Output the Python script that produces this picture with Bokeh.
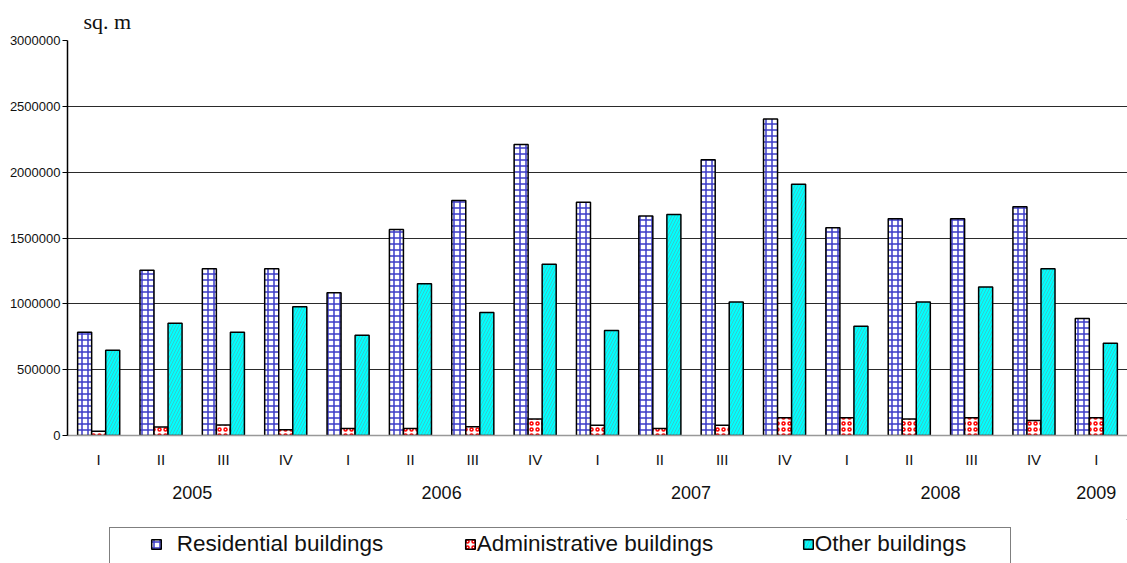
from bokeh.plotting import figure
from bokeh.layouts import column
from bokeh.models import (ColumnDataSource, FactorRange, FixedTicker,
                          BasicTickFormatter, Legend, LegendItem)
from bokeh.transform import dodge
from bokeh.embed import file_html
from bokeh.resources import INLINE

years = ["2005"] * 4 + ["2006"] * 4 + ["2007"] * 4 + ["2008"] * 4 + ["2009"]
quarters = ["I", "II", "III", "IV"] * 4 + ["I"]
residential = [785000, 1255000, 1266000, 1266000, 1084000, 1565000, 1785000, 2210000,
               1772000, 1668000, 2094000, 2403000, 1577000, 1646000, 1646000, 1737000,
               889000]
administrative = [32000, 64000, 80000, 44000, 54000, 54000, 67000, 125000,
                  77000, 54000, 77000, 135000, 135000, 125000, 135000, 113000,
                  135000]
other = [648000, 853000, 785000, 977000, 762000, 1152000, 934000, 1301000,
         797000, 1678000, 1013000, 1909000, 830000, 1013000, 1127000, 1266000,
         701000]
y_ticks = [0, 500000, 1000000, 1500000, 2000000, 2500000, 3000000]
series_names = ["Residential buildings", "Administrative buildings", "Other buildings"]

factors = list(zip(years, quarters))
src = ColumnDataSource(dict(x=factors, res=residential, adm=administrative, oth=other))

FONT = "Liberation Sans"
W = 1127

STYLES = [
    dict(fill_color="white", line_color="black", line_width=1.5,
         hatch_pattern="cross", hatch_color="#3c3cc8", hatch_scale=6, hatch_weight=1.5),
    dict(fill_color="white", line_color="black", line_width=1.5,
         hatch_pattern="ring", hatch_color="#ff0000", hatch_scale=6, hatch_weight=1.5),
    dict(fill_color="#00ffff", line_color="black", line_width=1.5,
         hatch_pattern="right_diagonal_line", hatch_color="#33cccc",
         hatch_scale=6, hatch_weight=1),
]

p = figure(width=W, height=519, x_range=FactorRange(*factors, group_padding=0,
           factor_padding=0, range_padding=0), y_range=(0, 3000000),
           output_backend="svg", toolbar_location=None,
           min_border_left=67, min_border_right=0, min_border_top=40,
           min_border_bottom=84)
p.outline_line_color = None
p.background_fill_color = "white"

bw = 0.225
r1 = p.vbar(x=dodge("x", -bw, range=p.x_range), top="res", width=bw, source=src, **STYLES[0])
r2 = p.vbar(x=dodge("x", 0, range=p.x_range), top="adm", width=bw, source=src, **STYLES[1])
r3 = p.vbar(x=dodge("x", bw, range=p.x_range), top="oth", width=bw, source=src, **STYLES[2])

# axes
p.yaxis.ticker = FixedTicker(ticks=y_ticks)
p.yaxis.formatter = BasicTickFormatter(use_scientific=False)
p.yaxis.axis_line_color = "black"
p.yaxis.axis_line_width = 1.5
p.yaxis.major_tick_out = 5
p.yaxis.major_tick_in = 0
p.yaxis.minor_tick_line_color = None
p.yaxis.major_tick_line_color = "black"
p.yaxis.major_label_text_font = FONT
p.yaxis.major_label_text_font_size = "13px"
p.yaxis.major_label_text_color = "#111111"
p.yaxis.major_label_standoff = 2

p.xaxis.axis_line_color = "#999999"
p.xaxis.axis_line_width = 1.5
p.xaxis.major_tick_line_color = None
p.xaxis.major_tick_out = 0
p.xaxis.major_tick_in = 0
p.xaxis.minor_tick_line_color = None
p.xaxis.major_label_text_font = FONT
p.xaxis.major_label_text_font_size = "15px"
p.xaxis.major_label_text_color = "#111111"
p.xaxis.major_label_standoff = 15
p.xaxis.group_text_font = FONT
p.xaxis.group_text_font_size = "18px"
p.xaxis.group_text_font_style = "normal"
p.xaxis.group_text_color = "#111111"
p.xaxis.separator_line_color = None

p.xgrid.grid_line_color = None
p.ygrid.grid_line_color = "#2a2a2a"
p.ygrid.grid_line_width = 1

# unit title
p.title.text = "sq. m"
p.title.text_font = "Liberation Serif"
p.title.text_font_size = "22px"
p.title.text_font_style = "normal"
p.title.text_color = "#111111"
p.title.align = "left"
p.title.vertical_align = "middle"
p.title.offset = 16
p.title.standoff = 12

# legend strip below the chart (frames of the column are aligned, left = 67)
LH = 44
q = figure(width=W, height=LH, x_range=(0, 1), y_range=(0, 1),
           x_axis_type=None, y_axis_type=None, output_backend="svg",
           toolbar_location=None, min_border=0, min_border_left=0,
           min_border_right=0, min_border_top=0, min_border_bottom=0)
q.outline_line_color = None
q.xgrid.grid_line_color = None
q.ygrid.grid_line_color = None

# legend proxies: one row each, lying outside the strip's visible range
proxy = ColumnDataSource(dict(x=[5], top=[5], bottom=[4]))
frame_r = q.vbar(x="x", top="top", bottom="bottom", width=0.1, source=proxy,
                 fill_alpha=0, line_alpha=0)
box = Legend(items=[LegendItem(label=" ", renderers=[frame_r])],
             location=(42, -26), padding=0, margin=0, glyph_width=900,
             glyph_height=60, label_standoff=0, label_width=0,
             label_text_font_size="1px", label_text_alpha=0,
             border_line_color="black", border_line_width=1,
             background_fill_color="white", background_fill_alpha=1)
q.add_layout(box, "center")

icon_x = [82.8, 396.8, 734.8]
standoffs = [15, 1, 1]
for name, st, ix, so in zip(series_names, STYLES, icon_x, standoffs):
    dr = q.vbar(x="x", top="top", bottom="bottom", width=0.1, source=proxy, **st)
    lg = Legend(items=[LegendItem(label=name, renderers=[dr])],
                location=(ix, 6), padding=0, margin=0, glyph_width=12,
                glyph_height=12, label_standoff=so,
                label_text_font=FONT, label_text_font_size="22.5px",
                label_text_color="#111111",
                border_line_color=None, background_fill_alpha=0)
    q.add_layout(lg, "center")

open("out.html", "w").write(file_html(column(p, q), INLINE))
